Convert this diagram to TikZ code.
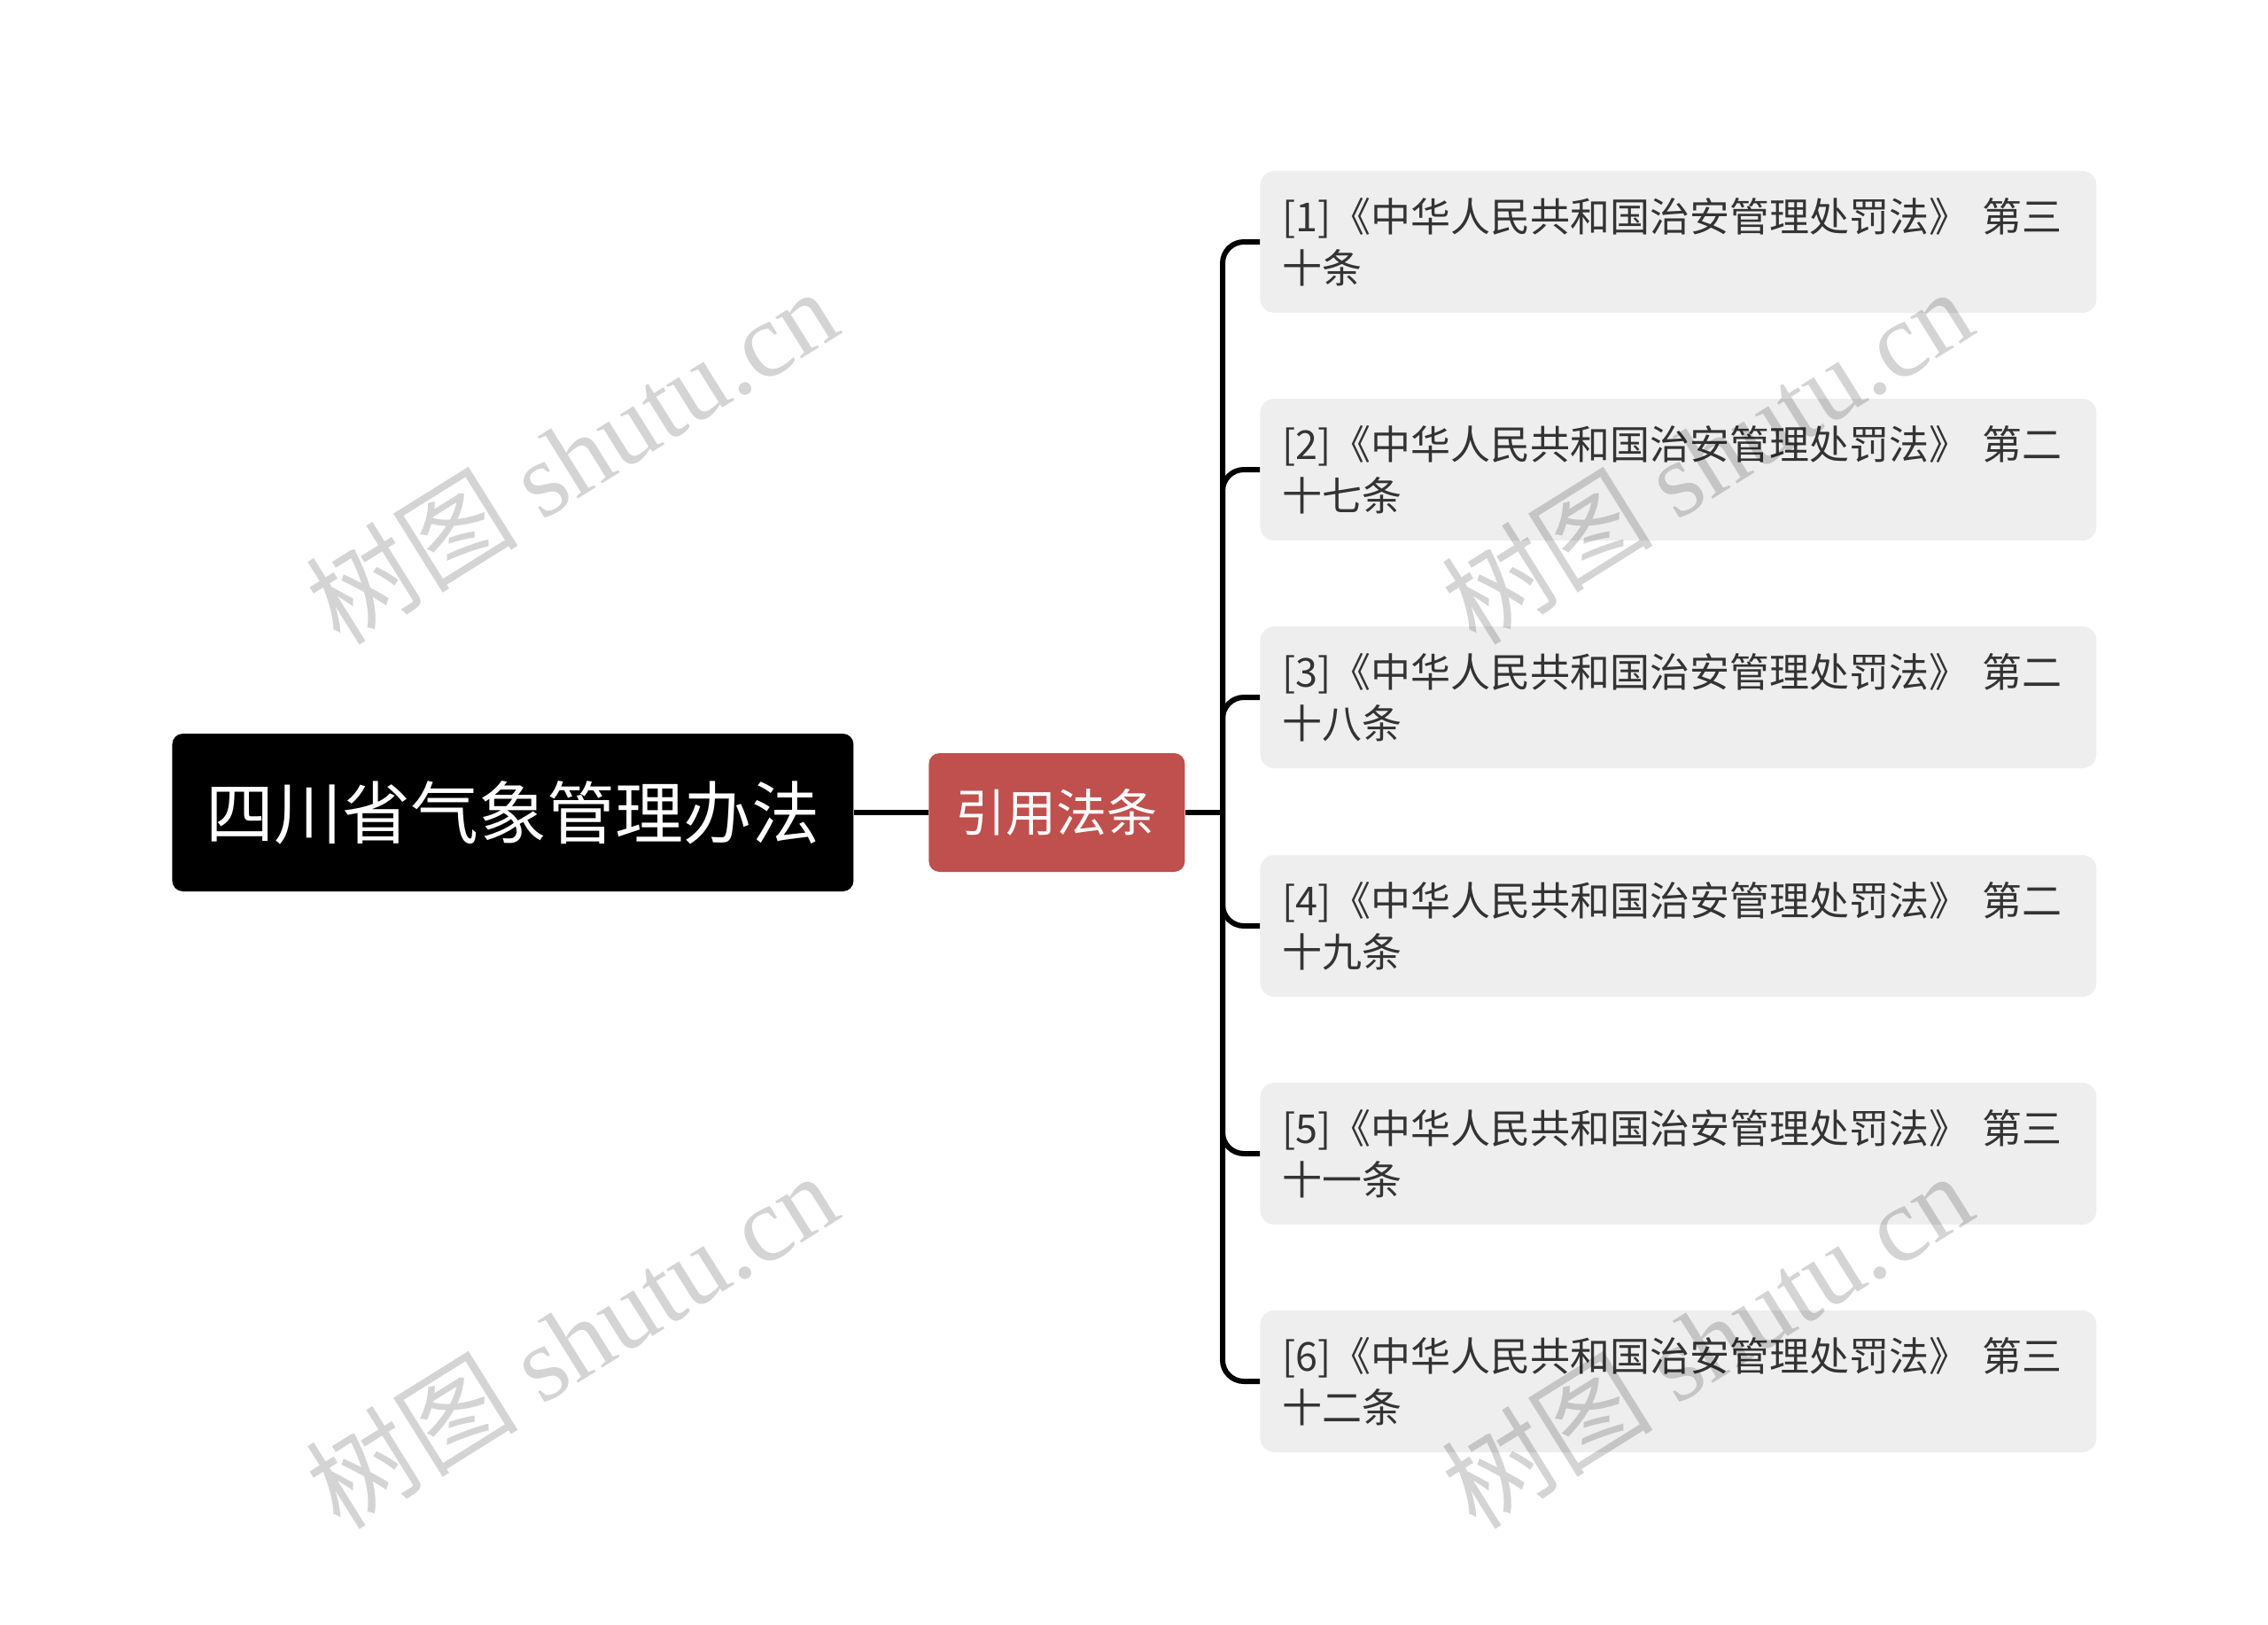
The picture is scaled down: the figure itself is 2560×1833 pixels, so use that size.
\documentclass[tikz,border=0pt]{standalone}
\usepackage{fontspec}
\usepackage{xcolor}
\usepackage{tikz}
\usetikzlibrary{positioning, calc}
\setmainfont{Noto Sans CJK SC}
\newfontfamily\markcjk{Noto Sans CJK SC}
\newfontfamily\marklatin{Liberation Serif}
\definecolor{rootblack}{HTML}{000000}
\definecolor{citered}{HTML}{C0504D}
\definecolor{lawgray}{HTML}{EEEEEE}
\definecolor{lawtext}{HTML}{333333}
\definecolor{linkblack}{HTML}{000000}

\begin{document}
\begin{tikzpicture}[
    x=0.5pt, y=-0.5pt,
    rootbox/.style={rectangle, rounded corners=6pt, fill=rootblack, text=white, anchor=west,
                    minimum width=384.5pt, minimum height=89pt, inner sep=0pt,
                    font=\fontsize{38.5}{46}\selectfont},
    citebox/.style={rectangle, rounded corners=6pt, fill=citered, text=white, anchor=west,
                    minimum width=144.5pt, minimum height=67pt, inner sep=0pt,
                    font=\fontsize{28.5}{34}\selectfont},
    lawbox/.style={rectangle, rounded corners=8pt, fill=lawgray, text=lawtext, anchor=west,
                   text width=447pt, minimum height=80pt, inner xsep=12.5pt, inner ysep=0pt,
                   align=left, font=\fontsize{22.5}{29}\selectfont},
    link/.style={draw=linkblack, line width=3pt},
    watermark/.style={text=black, text opacity=0.17, rotate=32,
                      font=\fontsize{60}{60}\selectfont},
]
\useasboundingbox (0,0) rectangle (2560,1833);

% Root and middle
\node[rootbox] (root) at (194,917) {四川省气象管理办法};
\node[citebox] (cite) at (1048,917) {引用法条};

% Cited articles
\node[lawbox] (law1) at (1422,273) {[1]《中华人民共和国治安管理处罚法》 第三\\十条};
\node[lawbox] (law2) at (1422,530) {[2]《中华人民共和国治安管理处罚法》 第二\\十七条};
\node[lawbox] (law3) at (1422,787) {[3]《中华人民共和国治安管理处罚法》 第二\\十八条};
\node[lawbox] (law4) at (1422,1045) {[4]《中华人民共和国治安管理处罚法》 第二\\十九条};
\node[lawbox] (law5) at (1422,1302) {[5]《中华人民共和国治安管理处罚法》 第三\\十一条};
\node[lawbox] (law6) at (1422,1559) {[6]《中华人民共和国治安管理处罚法》 第三\\十二条};

% Connectors
\coordinate (bus) at (1380,917);
\draw[link] (root.east) -- (cite.west);
\draw[link] (cite.east) -- (bus);
\draw[link, rounded corners=12pt] (bus) |- (law1.west);
\draw[link, rounded corners=12pt] (bus) |- (law2.west);
\draw[link, rounded corners=12pt] (bus) |- (law3.west);
\draw[link, rounded corners=12pt] (bus) |- (law4.west);
\draw[link, rounded corners=12pt] (bus) |- (law5.west);
\draw[link, rounded corners=12pt] (bus) |- (law6.west);

% Watermarks
\node[watermark] (mark1) at (645,514) {\markcjk 树图 \marklatin shutu.cn};
\node[watermark] (mark2) at (1926,514) {\markcjk 树图 \marklatin shutu.cn};
\node[watermark] (mark3) at (645,1512) {\markcjk 树图 \marklatin shutu.cn};
\node[watermark] (mark4) at (1926,1512) {\markcjk 树图 \marklatin shutu.cn};

\end{tikzpicture}
\end{document}
